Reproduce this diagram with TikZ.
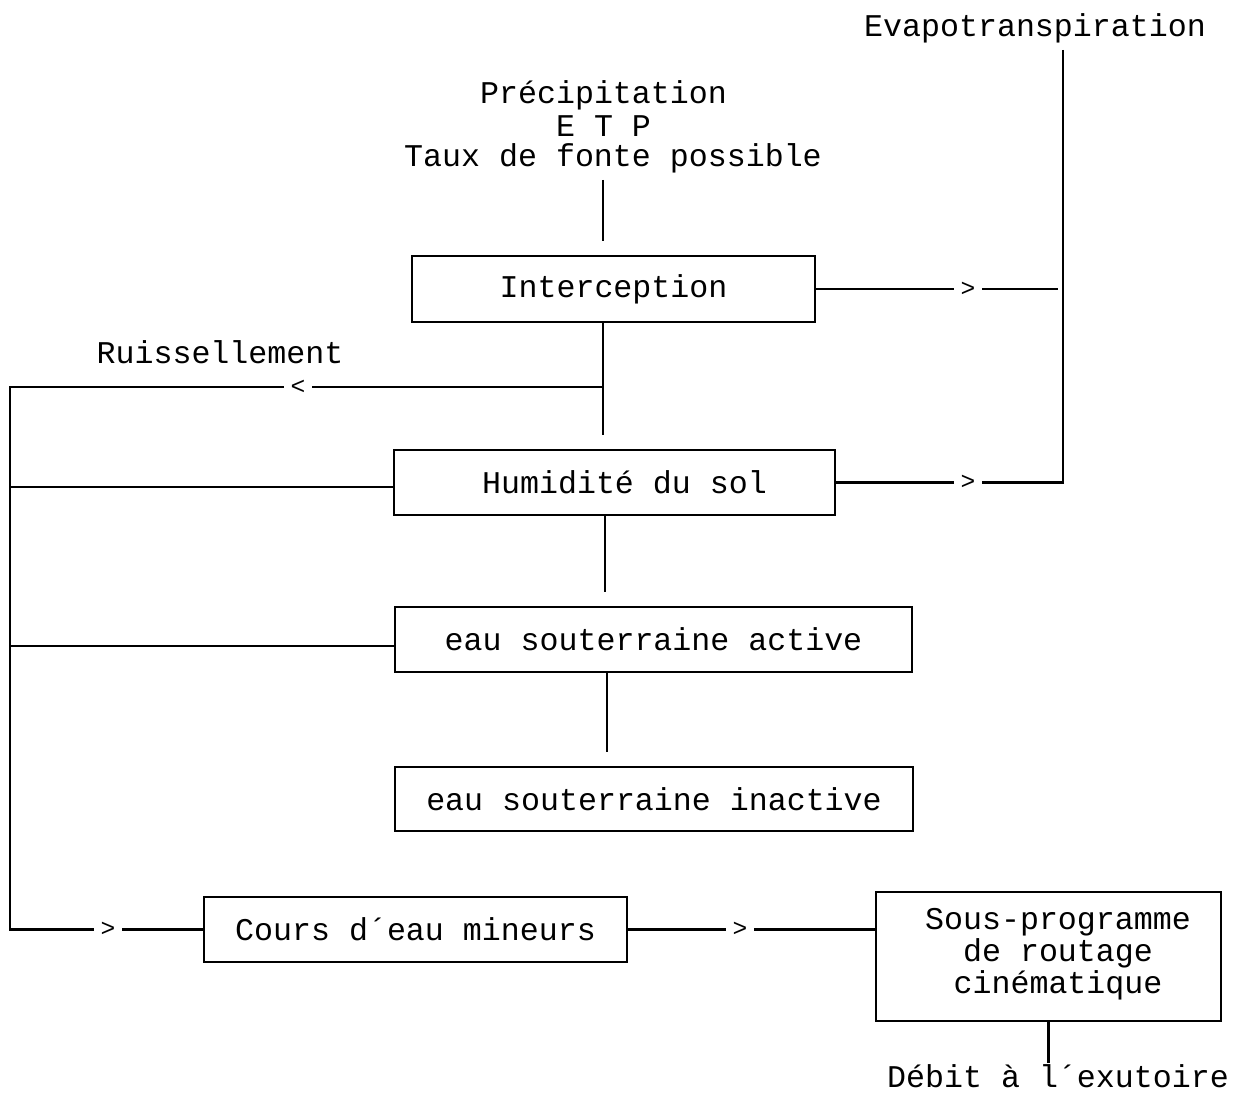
\documentclass[tikz,border=0pt]{standalone}
\usepackage{fontspec}
\setmonofont{Liberation Mono}
\begin{document}
\begin{tikzpicture}[x=0.02cm,y=-0.02cm,line width=1.2pt,
  every node/.style={font=\ttfamily\fontsize{18}{18.2}\selectfont,inner sep=0pt},
  box/.style={draw,line width=1.2pt},
  flowmark/.style={fill=white,inner xsep=4pt,inner ysep=1pt,font=\ttfamily\fontsize{14}{14}\selectfont},
  topgap/.style={shorten >=0.28cm}]
\useasboundingbox (0,0) rectangle (1233,1094);

% boxes
\node[box,minimum width=8.06cm,minimum height=1.32cm] (int) at (613.5,289) {Interception};
\node[box,minimum width=8.82cm,minimum height=1.30cm] (hum) at (614.5,482.5) {\hspace{0.4cm}Humidité du sol};
\node[box,minimum width=10.34cm,minimum height=1.30cm] (act) at (653.5,639.5) {eau souterraine active};
\node[box,minimum width=10.36cm,minimum height=1.28cm] (inact) at (654,799) {eau souterraine inactive};
\node[box,minimum width=8.46cm,minimum height=1.30cm] (cours) at (415.5,929.5) {Cours d´eau mineurs};
\node[box,minimum width=6.9cm,minimum height=2.58cm,
  label={[align=center,xshift=0.19cm,yshift=0.04cm]center:Sous-programme\\de routage\\cinématique}] (sous) at (1048.5,956.5) {};

% free labels
\node (evap) at (1035,28) {Evapotranspiration};
\node (p1) at (603.5,95) {Précipitation};
\node (p2) at (603.5,126) {E T P};
\node (p3) at (613,158) {Taux de fonte possible};
\node (ruis) at (220,352) {Ruissellement};
\node (out) at (1058,1076) {Débit à l´exutoire};

% coordinates of the connector network
\coordinate (cx) at (603,180);
\coordinate (ev) at (1063,50);
\coordinate (lx) at (10,387);

% vertical chain
\draw[topgap] (cx) -- (cx |- int.north);
\draw[topgap] (int.south -| cx) -- (hum.north -| cx);
\draw[topgap] (hum.south -| 605,0) -- (act.north -| 605,0);
\draw[topgap] (act.south -| 607,0) -- (inact.north -| 607,0);

% evapotranspiration
\draw[shorten >=3pt] (int.east) -- (int.east -| ev);
\draw (ev) -- (ev |- hum.east) -- (hum.east);
\node[flowmark] at (968,289) {>};
\node[flowmark] at (968,482.5) {>};

% surface runoff and lateral flows
\draw (lx -| cx) -- (lx) -- (lx |- cours.west) -- (cours.west);
\node[flowmark] at (298,387) {<};
\draw (hum.west |- 0,487) -- (lx |- 0,487);
\draw (act.west |- 0,646) -- (lx |- 0,646);
\node[flowmark] at (108,929.5) {>};

% routing
\draw (cours.east) -- (cours.east -| sous.west);
\node[flowmark] at (740,929.5) {>};
\draw (sous.south) -- (sous.south |- out.north);
\end{tikzpicture}
\end{document}
